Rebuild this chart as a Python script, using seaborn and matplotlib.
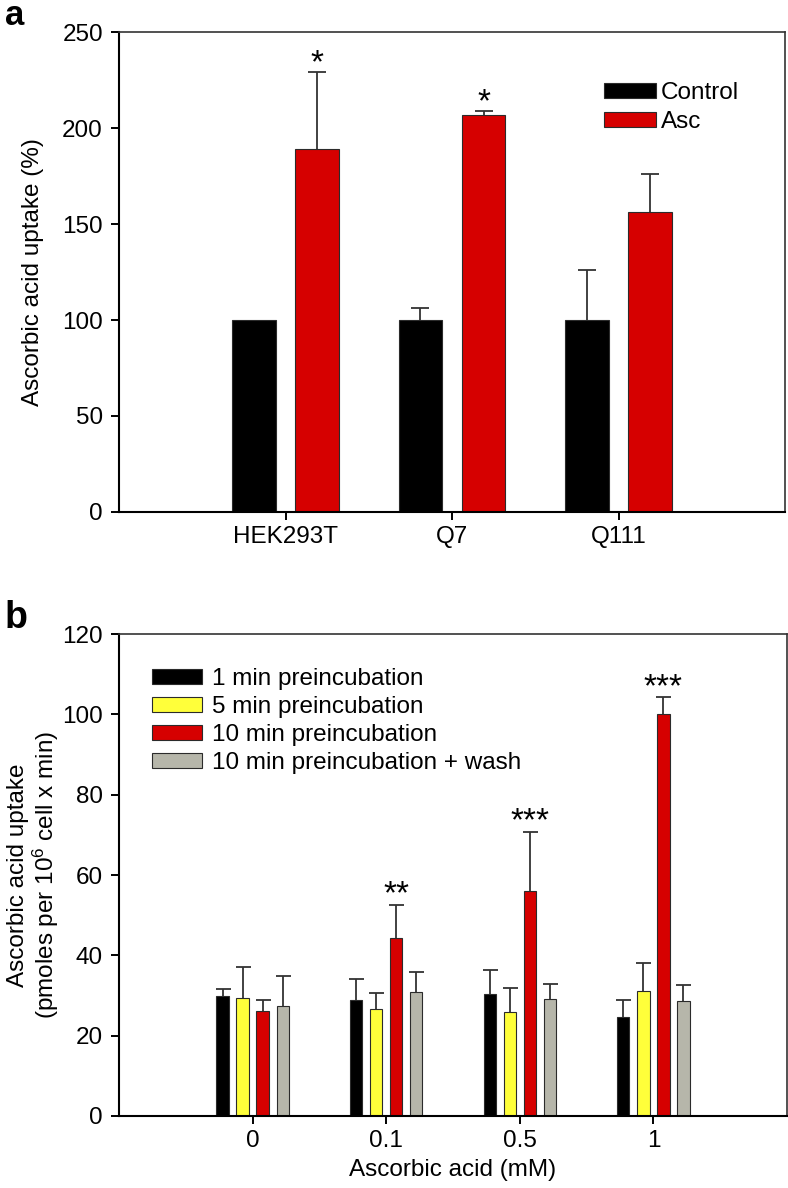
import matplotlib
matplotlib.use("Agg")

import numpy as np
import pandas as pd
import matplotlib.pyplot as plt
import seaborn as sns


# ---- panel a: uptake relative to control ----
CELLS = ["HEK293T", "Q7", "Q111"]
TREATMENTS = ["Control", "Asc"]
CONTROL_UPTAKE = [100, 100, 100]
CONTROL_ERR = [0, 6, 26]
ASC_UPTAKE = [189, 207, 156]
ASC_ERR = [40, 1.7, 20]
ASC_STARS = ["*", "*", ""]

# ---- panel b: uptake vs ascorbic acid concentration ----
CONCS = ["0", "0.1", "0.5", "1"]
PREINC = ["1 min preincubation", "5 min preincubation",
          "10 min preincubation", "10 min preincubation + wash"]
MIN1 = [30.0, 29.0, 30.3, 24.7]
MIN1_ERR = [1.6, 5.1, 6.0, 4.2]
MIN5 = [29.3, 26.7, 25.9, 31.2]
MIN5_ERR = [7.8, 3.8, 5.9, 6.9]
MIN10 = [26.1, 44.3, 56.0, 100.0]
MIN10_ERR = [2.9, 8.3, 14.8, 4.3]
WASH = [27.5, 30.9, 29.2, 28.6]
WASH_ERR = [7.4, 4.9, 3.7, 3.9]
MIN10_STARS = ["", "**", "***", "***"]

COLORS_A = {"Control": "#000000", "Asc": "#d60000"}
COLORS_B = dict(zip(PREINC, ["#000000", "#ffff3a", "#d60000", "#b6b6aa"]))

FS = 17.5
EDGE = "#2b2b2b"


def long_table(groups, group_col, levels, level_col, values):
    rows = []
    for level, vals in zip(levels, values):
        for g, v in zip(groups, vals):
            rows.append({group_col: g, level_col: level, "uptake": v})
    return pd.DataFrame(rows)


def add_errors(ax, containers, errors, stars, capsize, star_off):
    for cont, errs, st in zip(containers, errors, stars):
        for bar, err, s in zip(cont, errs, st):
            x = bar.get_x() + bar.get_width() / 2
            h = bar.get_height()
            if err > 0:
                _, caps, _ = ax.errorbar(x, h, yerr=[[0], [err]], fmt="none", ecolor="#333333",
                                         elinewidth=1.3, capsize=capsize, capthick=1.3, zorder=0.9)
                caps[0].set_visible(False)  # only the upper cap
            if s:
                ax.annotate(s, xy=(x, h + err), xytext=(0, star_off), textcoords="offset points",
                            ha="center", va="center", fontsize=24)


def style_axes(ax):
    for side in ["left", "bottom"]:
        ax.spines[side].set_linewidth(1.5)
        ax.spines[side].set_color("black")
    for side in ["top", "right"]:
        ax.spines[side].set_visible(True)
        ax.spines[side].set_linewidth(1.2)
        ax.spines[side].set_color("#333333")
    ax.tick_params(axis="both", direction="out", length=5.8, width=1.4, labelsize=FS,
                   top=False, right=False, color="black", labelcolor="black")
    ax.tick_params(axis="x", pad=4.5)
    ax.tick_params(axis="y", pad=5.8)


def main() -> None:
    sns.set_style("ticks")
    plt.rcParams["font.family"] = ["Liberation Sans", "DejaVu Sans"]
    plt.rcParams["mathtext.fontset"] = "custom"
    plt.rcParams["mathtext.rm"] = "Liberation Sans"
    plt.rcParams["mathtext.it"] = "Liberation Sans:italic"
    plt.rcParams["text.color"] = "black"
    plt.rcParams["axes.labelcolor"] = "black"

    fig = plt.figure(figsize=(7.88, 11.88), dpi=100)

    # ---------------- a ----------------
    ax = fig.add_axes([119 / 788, 1 - 512 / 1188, 666 / 788, 480 / 1188])
    df_a = long_table(CELLS, "cell", TREATMENTS, "treatment", [CONTROL_UPTAKE, ASC_UPTAKE])
    sns.barplot(data=df_a, x="cell", y="uptake", hue="treatment", order=CELLS,
                hue_order=TREATMENTS, palette=COLORS_A, saturation=1, width=0.76, gap=0.316,
                errorbar=None, edgecolor=EDGE, linewidth=0.8, legend=False, ax=ax)
    bars_a = list(ax.containers)
    add_errors(ax, bars_a, [CONTROL_ERR, ASC_ERR], [["", "", ""], ASC_STARS],
               capsize=6.5, star_off=6)
    ax.set_xlim(-1, 3)
    ax.set_ylim(0, 250)
    ax.set_yticks(range(0, 251, 50))
    ax.set_xlabel("")
    ax.set_ylabel("Ascorbic acid uptake (%)", fontsize=FS, va="center")
    ax.yaxis.set_label_coords((33 - 119) / 666, 0.5)
    style_axes(ax)
    ax.legend(bars_a, TREATMENTS, loc="upper left", bbox_to_anchor=(0.728, 0.896),
              frameon=False, borderpad=0, borderaxespad=0, handlelength=2.15,
              handleheight=0.57, handletextpad=0.2, labelspacing=0.3, fontsize=FS)

    # ---------------- b ----------------
    ax = fig.add_axes([119 / 788, 1 - 1116 / 1188, 668 / 788, 482 / 1188])
    df_b = long_table(CONCS, "conc", PREINC, "preinc", [MIN1, MIN5, MIN10, WASH])
    sns.barplot(data=df_b, x="conc", y="uptake", hue="preinc", order=CONCS,
                hue_order=PREINC, palette=COLORS_B, saturation=1, width=0.6, gap=0.387,
                errorbar=None, edgecolor=EDGE, linewidth=0.8, legend=False, ax=ax)
    bars_b = list(ax.containers)
    no_stars = [""] * len(CONCS)
    add_errors(ax, bars_b, [MIN1_ERR, MIN5_ERR, MIN10_ERR, WASH_ERR],
               [no_stars, no_stars, MIN10_STARS, no_stars], capsize=5.4, star_off=7)
    ax.set_xlim(-1, 4)
    ax.set_ylim(0, 120)
    ax.set_yticks(range(0, 121, 20))
    ax.set_xlabel("Ascorbic acid (mM)", fontsize=FS, labelpad=5)
    ax.set_ylabel("Ascorbic acid uptake\n(pmoles per 10$^6$ cell x min)", fontsize=FS,
                  va="center", linespacing=1.05)
    ax.yaxis.set_label_coords((34 - 119) / 668, 0.5)
    style_axes(ax)
    ax.legend(bars_b, PREINC, loc="upper left", bbox_to_anchor=(0.049, 0.930),
              frameon=False, borderpad=0, borderaxespad=0, handlelength=2.08,
              handleheight=0.57, handletextpad=0.41, labelspacing=0.25, fontsize=FS)

    fig.text(5 / 788, 1 - 25 / 1188, "a", fontsize=25, fontweight="bold", ha="left", va="baseline")
    fig.text(5 / 788, 1 - 628 / 1188, "b", fontsize=27, fontweight="bold", ha="left", va="baseline")

    fig.savefig("out.png", dpi=100)
    plt.close(fig)


if __name__ == "__main__":
    main()
